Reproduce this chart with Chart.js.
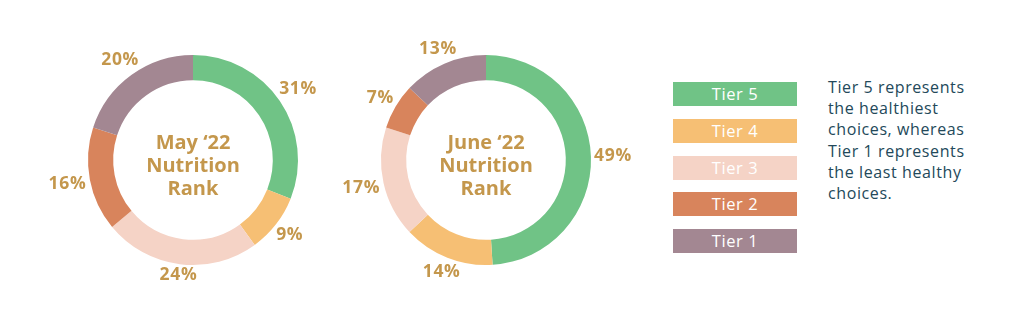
<!DOCTYPE html>
<html>
<head>
<meta charset="utf-8">
<script src="https://cdn.jsdelivr.net/npm/chart.js@4.4.0/dist/chart.umd.min.js"></script>
<style>
  html, body { margin: 0; padding: 0; background: #fff; }
  body { width: 1024px; height: 328px; position: relative; overflow: hidden; font-family: "Open Sans", Lato, sans-serif; }
  .chart-box { position: absolute; width: 320px; height: 300px; }
  #may-box { left: 33px; top: 10px; }
  #june-box { left: 326px; top: 10px; }
  #legend { position: absolute; left: 673px; top: 82px; }
  .legend-item {
    width: 124px; height: 24px; margin-bottom: 12.8px;
    color: #fff; font-size: 16.5px; line-height: 24px; text-align: center; letter-spacing: 0.6px;
  }
  #note {
    position: absolute; left: 828px; top: 77px; width: 160px;
    color: #23495a; font-size: 16px; line-height: 21.2px; letter-spacing: 0.6px;
  }
</style>
</head>
<body>
<div class="chart-box" id="may-box"><canvas id="may-chart"></canvas></div>
<div class="chart-box" id="june-box"><canvas id="june-chart"></canvas></div>
<div id="legend"></div>
<div id="note">Tier 5 represents the healthiest choices, whereas Tier 1 represents the least healthy choices.</div>

<script>
// data
const tiers = ['Tier 5', 'Tier 4', 'Tier 3', 'Tier 2', 'Tier 1'];
const tierColors = ['#70c386', '#f6bf74', '#f5d3c6', '#d8845c', '#a38792'];
const mayValues = [31, 9, 24, 16, 20];
const juneValues = [49, 14, 17, 7, 13];
const mayTitle = ['May \u201822', 'Nutrition', 'Rank'];
const juneTitle = ['June \u201822', 'Nutrition', 'Rank'];

const gold = '#c4974c';

// percent labels outside the ring
const outerLabels = {
    id: 'outerLabels',
    afterDatasetsDraw(chart) {
        const ctx = chart.ctx;
        const meta = chart.getDatasetMeta(0);
        const values = chart.data.datasets[0].data;
        ctx.save();
        ctx.font = 'bold 17.5px "Open Sans", sans-serif';
        ctx.letterSpacing = '0.7px';
        ctx.fillStyle = gold;
        ctx.textAlign = 'center';
        ctx.textBaseline = 'middle';
        meta.data.forEach(function(arc, i) {
            const p = arc.getProps(['x', 'y', 'startAngle', 'endAngle', 'outerRadius'], true);
            const mid = (p.startAngle + p.endAngle) / 2;
            const text = values[i] + '%';
            const w = ctx.measureText(text).width;
            const dx = Math.cos(mid), dy = Math.sin(mid);
            const r = p.outerRadius + 3 + Math.abs(dx) * w / 2 + Math.abs(dy) * 6;
            ctx.fillText(text, p.x + dx * r, p.y + dy * r);
        });
        ctx.restore();
    }
};

// title in the middle
const centerText = {
    id: 'centerText',
    afterDraw(chart) {
        const lines = chart.options.plugins.centerText.lines;
        const meta = chart.getDatasetMeta(0);
        const arc = meta.data[0];
        const ctx = chart.ctx;
        ctx.save();
        ctx.font = 'bold 20px "Open Sans", sans-serif';
        ctx.fillStyle = gold;
        ctx.textAlign = 'center';
        ctx.textBaseline = 'middle';
        lines.forEach(function(line, i) {
            ctx.fillText(line, arc.x, arc.y + 6 + (i - 1) * 23);
        });
        ctx.restore();
    }
};

function makeDoughnut(id, values, title) {
    return new Chart(document.getElementById(id), {
        type: 'doughnut',
        data: {
            labels: tiers,
            datasets: [{
                data: values,
                backgroundColor: tierColors,
                borderWidth: 0
            }]
        },
        options: {
            responsive: true,
            maintainAspectRatio: false,
            animation: false,
            cutout: '76%',
            layout: { padding: { top: 45, bottom: 45, left: 55, right: 55 } },
            plugins: {
                legend: { display: false },
                tooltip: { enabled: false },
                centerText: { lines: title }
            }
        },
        plugins: [outerLabels, centerText]
    });
}

makeDoughnut('may-chart', mayValues, mayTitle);
makeDoughnut('june-chart', juneValues, juneTitle);

// legend boxes
const legend = document.getElementById('legend');
tiers.forEach(function(t, i) {
    const d = document.createElement('div');
    d.className = 'legend-item';
    d.style.background = tierColors[i];
    d.textContent = t;
    legend.appendChild(d);
});
</script>
</body>
</html>
